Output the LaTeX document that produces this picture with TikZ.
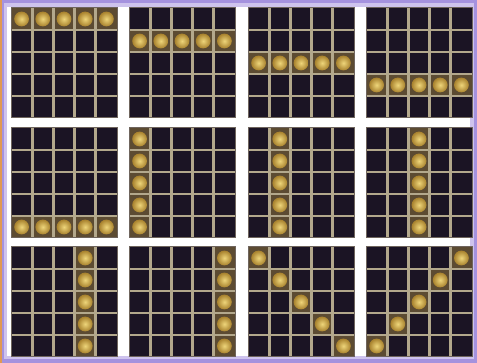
\documentclass[tikz,border=0pt]{standalone}
\definecolor{cellbg}{HTML}{1B1424}
\definecolor{gridc}{HTML}{B3A88C}
\definecolor{coinbg}{HTML}{5C4B32}
\definecolor{framec}{HTML}{A592DE}
\definecolor{goldin}{HTML}{EED57A}
\definecolor{goldout}{HTML}{A8822E}
\tikzset{
  gridline/.style={gridc, line width=2.8pt},
  coin/.style={inner color=goldin, outer color=goldout},
}
\begin{document}
\begin{tikzpicture}[x=1pt,y=-1pt]
\useasboundingbox (0,0) rectangle (477,363);
\fill[white] (0,0) rectangle (477,363);
\draw[framec!55, line width=14pt] (0,0) rectangle (477,363);
\draw[framec, line width=7pt] (0,0) rectangle (477,363);
\fill[brown!60!orange!80] (0,0) rectangle (2,363);
\foreach \X/\Y/\coins in {
  11/8/{0/0,1/0,2/0,3/0,4/0},
  129/8/{0/1,1/1,2/1,3/1,4/1},
  248/8/{0/2,1/2,2/2,3/2,4/2},
  366/8/{0/3,1/3,2/3,3/3,4/3},
  11/128/{0/4,1/4,2/4,3/4,4/4},
  129/128/{0/0,0/1,0/2,0/3,0/4},
  248/128/{1/0,1/1,1/2,1/3,1/4},
  366/128/{2/0,2/1,2/2,2/3,2/4},
  11/247/{3/0,3/1,3/2,3/3,3/4},
  129/247/{4/0,4/1,4/2,4/3,4/4},
  248/247/{0/0,1/1,2/2,3/3,4/4},
  366/247/{4/0,3/1,2/2,1/3,0/4}} {
  \fill[cellbg] (\X,\Y) rectangle ++(106,110);
  \foreach \c/\r in \coins {
    \fill[coinbg] (\X+\c*21.2,\Y+\r*22) rectangle ++(21.2,22);
  }
  \foreach \k in {1,...,4} {
    \draw[gridline] (\X+\k*21.2,\Y) -- ++(0,110);
    \draw[gridline] (\X,\Y+\k*22) -- ++(106,0);
  }
  \draw[gridc!55!cellbg, line width=1pt] (\X,\Y) rectangle ++(106,110);
  \foreach \c/\r in \coins {
    \shade[coin] (\X+\c*21.2+10.6,\Y+\r*22+11) circle (7.4);
  }
}
\end{tikzpicture}
\end{document}
